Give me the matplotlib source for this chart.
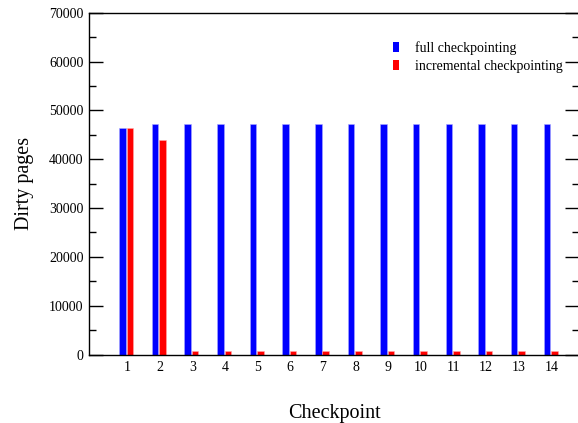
import matplotlib
matplotlib.use("Agg")
import matplotlib.pyplot as plt
from matplotlib.patches import Patch
import numpy as np

plt.rcParams['font.family'] = ['Liberation Serif', 'DejaVu Serif']

checkpoints = list(range(1, 15))
full_pages = [46400, 47250, 47250, 47250, 47250, 47250, 47250,
              47250, 47250, 47250, 47250, 47250, 47250, 47250]
incr_pages = [46400, 44000, 800, 800, 800, 800, 800,
              800, 800, 800, 800, 800, 800, 800]

fig = plt.figure(figsize=(5.78, 4.23), dpi=100)
ax = fig.add_axes([89/578, 1 - 354.5/423, 490.5/578, (354.5 - 12.7)/423])

x = np.array(checkpoints)
w = 0.2
ax.bar(x - 0.14, full_pages, width=w, color='#0000ff', edgecolor='#aaaaff', linewidth=0.4)
ax.bar(x + 0.09, incr_pages, width=w, color='#ff0000', edgecolor='#ffaaaa', linewidth=0.4)

ax.set_xlim(-0.16, 14.86)
ax.set_ylim(0, 70000)
ax.set_xticks(checkpoints)
ax.set_xticklabels([str(c) for c in checkpoints])
ax.set_yticks(np.arange(0, 70001, 10000))
ax.set_yticks(np.arange(5000, 70000, 10000), minor=True)

ax.tick_params(axis='x', length=0, labelsize=10, pad=5)
ax.tick_params(axis='y', which='major', direction='in', length=10, width=1,
               labelsize=10, pad=4, right=True)
ax.tick_params(axis='y', which='minor', direction='in', length=5, width=1, right=True)
for s in ax.spines.values():
    s.set_linewidth(1)

ax.set_ylabel('Dirty pages', fontsize=14.5, labelpad=11)
ax.set_xlabel('Checkpoint', fontsize=14.5, labelpad=21)

handles = [Patch(facecolor='#0000ff', edgecolor='none'),
           Patch(facecolor='#ff0000', edgecolor='none')]
ax.legend(handles, ['full checkpointing', 'incremental checkpointing'],
          loc='upper left', bbox_to_anchor=(393/578, 1 - 41/423),
          bbox_transform=fig.transFigure, frameon=False, fontsize=10,
          handlelength=0.45, handleheight=0.75, handletextpad=1.1,
          labelspacing=0.35, borderpad=0, borderaxespad=0)

fig.savefig('out.png', dpi=100)
